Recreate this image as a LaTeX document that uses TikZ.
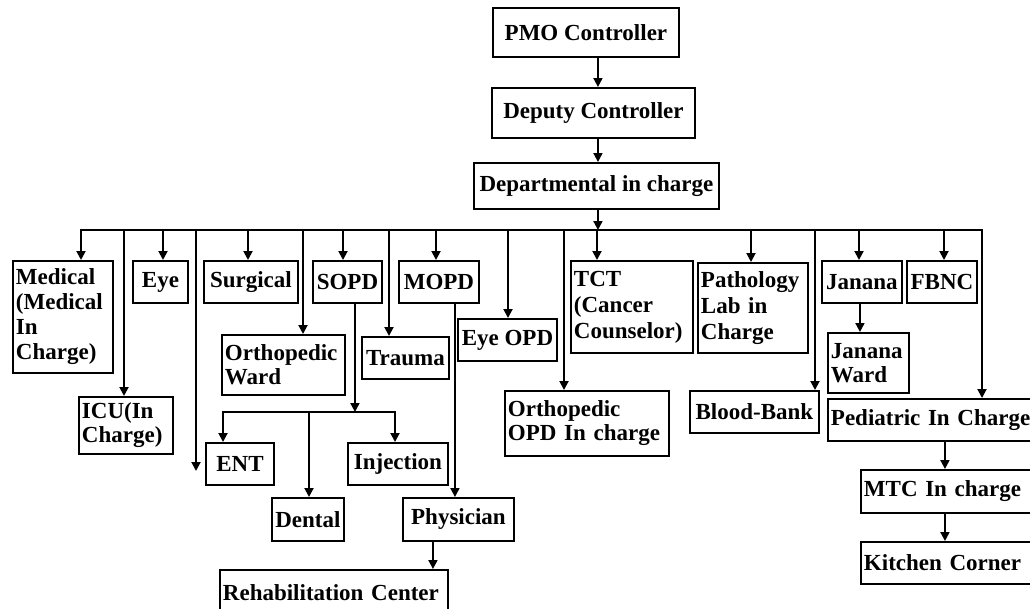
\documentclass[tikz,border=0pt]{standalone}
\usepackage{fontspec}
\setmainfont{Liberation Serif}
\usetikzlibrary{arrows.meta}
\begin{document}
\begin{tikzpicture}[x=1pt,y=-1pt,
  every node/.style={font=\fontsize{23}{24}\selectfont\bfseries},
  box/.style={draw, line width=1.9pt, anchor=north west, inner xsep=3pt, inner ysep=2pt, align=left},
  one/.style={box, align=center, inner xsep=1pt},
  wire/.style={line width=1.9pt},
  arr/.style={wire, -{Triangle[width=9pt,length=9pt]}}]
\useasboundingbox (0,0) rectangle (1030,608);
\clip (0,0) rectangle (1030,608);

% top of the hierarchy
\node[one, minimum width=186pt, minimum height=49pt] (pmo)  at (492,7)   {PMO Controller};
\node[one, minimum width=203pt, minimum height=50pt] (dep)  at (491,87)  {Deputy Controller};
\node[one, minimum width=245pt, minimum height=46pt] (dept) at (473,162) {Departmental in charge};

% first row of departments
\node[box, text width=94pt, minimum height=112pt, font=\fontsize{23}{25}\selectfont\bfseries] (medical) at (12,260) {Medical\\(Medical\\In\\Charge)};
\node[one, minimum width=55pt, minimum height=42pt] (eye)      at (132,260) {Eye};
\node[one, minimum width=94pt, minimum height=42pt] (surgical) at (203,260) {Surgical};
\node[one, minimum width=69pt, minimum height=42pt] (sopd)     at (312,260) {SOPD};
\node[one, minimum width=80pt, minimum height=42pt] (mopd)     at (398,260) {MOPD};
\node[box, text width=116pt, minimum height=92pt, font=\fontsize{23}{26}\selectfont\bfseries] (tct)  at (570,260) {TCT\\(Cancer\\Counselor)};
\node[box, text width=104pt, minimum height=90pt, font=\fontsize{23}{26}\selectfont\bfseries] (path) at (697,262) {Pathology\\Lab in\\Charge};
\node[one, minimum width=80pt, minimum height=42pt] (janana) at (821,260) {Janana};
\node[one, minimum width=70pt, minimum height=42pt] (fbnc)   at (906,260) {FBNC};

% lower branches
\node[box, text width=88pt,  minimum height=57pt] (icu)        at (78,396)  {ICU(In\\Charge)};
\node[box, text width=117pt, minimum height=60pt] (orthoward)  at (221,334) {Orthopedic\\Ward};
\node[one, minimum width=87pt,  minimum height=42pt] (trauma)  at (361,336) {Trauma};
\node[one, minimum width=99pt,  minimum height=42pt] (eyeopd)  at (457,318) {Eye OPD};
\node[box, text width=158pt, minimum height=65pt] (orthoopd)   at (504,390) {Orthopedic\\OPD In charge};
\node[one, minimum width=129pt, minimum height=42pt] (bloodbank) at (689,390) {Blood-Bank};
\node[box, text width=75pt,  minimum height=60pt] (jananaward) at (827,332) {Janana\\Ward};
\node[box, text width=204pt, minimum height=42pt] (pediatric)  at (827,398) {Pediatric In Charge};
\node[box, text width=169pt, minimum height=43pt] (mtc)        at (860,469) {MTC In charge};
\node[box, text width=169pt, minimum height=42pt] (kitchen)    at (860,541) {Kitchen Corner};

% SOPD / MOPD subtree
\node[one, minimum width=68pt,  minimum height=42pt] (ent)       at (205,442) {ENT};
\node[one, minimum width=72pt,  minimum height=43pt] (dental)    at (271,497) {Dental};
\node[one, minimum width=100pt, minimum height=42pt] (injection) at (347,442) {Injection};
\node[one, minimum width=111pt, minimum height=43pt] (physician) at (402,497) {Physician};
\node[box, text width=222pt, minimum height=46pt] (rehab)     at (219,569) {Rehabilitation Center};

% trunk
\draw[arr] ([xshift=12pt]pmo.south) -- ([xshift=12pt]pmo.south |- dep.north);
\draw[arr] ([xshift=4.5pt]dep.south) -- ([xshift=4.5pt]dep.south |- dept.north);
\coordinate (busL) at (81,230);
\coordinate (busR) at (982,230);
\coordinate (trunk) at (597,230);
\draw[arr] ([xshift=1.5pt]dept.south) -- ([xshift=1.5pt]dept.south |- trunk);
\draw[wire, line cap=rect] (busL) -- (busR);

% taps on the bus
\foreach \x/\n in {81/medical,124/icu,163/eye,248/surgical,303/orthoward,343/sopd,
                   389/trauma,436/mopd,508/eyeopd,564/orthoopd,597/tct,751/path,
                   815/bloodbank,859/janana,944/fbnc,982/pediatric}{
  \coordinate (tap-\n) at (\x,230);
  \draw[arr] (tap-\n) -- (tap-\n |- \n.north);
}
\coordinate (tap-free) at (196,230);
\coordinate (freeend) at (196,471);
\draw[arr] (tap-free) -- (freeend);

% SOPD split
\coordinate (subL) at (223,412);
\coordinate (subM) at (309,412);
\coordinate (subR) at (395,412);
\draw[arr] ([xshift=7.5pt]sopd.south) -- ([xshift=7.5pt]sopd.south |- subL);
\draw[arr] (subM) -- (subL) -- (subL |- ent.north);
\draw[arr] (subM) -- (subR) -- (subR |- injection.north);
\draw[arr] (subM) -- (subM |- dental.north);

% MOPD and other chains
\draw[arr] ([xshift=16pt]mopd.south) -- ([xshift=16pt]mopd.south |- physician.north);
\draw[arr] ([xshift=-25.5pt]physician.south) -- ([xshift=-25.5pt]physician.south |- rehab.north);
\draw[arr] ([xshift=-2pt]janana.south) -- ([xshift=-2pt]janana.south |- jananaward.north);
\draw[arr] ([xshift=12pt]pediatric.south) -- ([xshift=12pt]pediatric.south |- mtc.north);
\draw[arr] ([xshift=-3.5pt]mtc.south) -- ([xshift=-3.5pt]mtc.south |- kitchen.north);
\end{tikzpicture}
\end{document}
